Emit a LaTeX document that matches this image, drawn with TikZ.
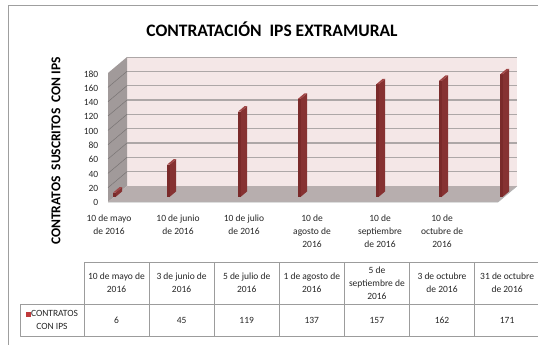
\documentclass[tikz,border=0pt]{standalone}
\usepackage{fontspec}
\setmainfont{Carlito}
\definecolor{wallpink}{HTML}{F4E7E7}
\definecolor{sidegray}{HTML}{A19A9A}
\definecolor{floorgray}{HTML}{B7AEAE}
\definecolor{gridgray}{HTML}{ADA7A7}
\definecolor{barfront}{HTML}{7A2A2A}
\definecolor{barside}{HTML}{863232}
\definecolor{bartop}{HTML}{A04646}
\definecolor{legred}{HTML}{C0393B}
\definecolor{tabline}{HTML}{9C9C9C}
\begin{document}
\begin{tikzpicture}[x=1pt, y=-1pt, font=\fontsize{9.5}{13}\selectfont, line join=round,
  cell/.style={draw=tabline, line width=0.8pt},
  txt/.style={align=center, inner sep=0pt, text=black!85}]
\def\k{0.7167}
\useasboundingbox (0,0) rectangle (538,345);
\draw[gray!75, line width=0.8pt] (8,5) rectangle (560,360);
\node[font=\fontsize{17.5}{19}\selectfont\bfseries] (title) at (272,29) {CONTRATACIÓN\ \ IPS EXTRAMURAL};
% walls and floor
\path (108,202) coordinate (FL) (127,186) coordinate (BL) (517,186) coordinate (BR) (498,202) coordinate (FR);
\fill[wallpink] (127,57) rectangle (BR);
\fill[sidegray] (108,73) -- (127,57) -- (BL) -- (FL) -- cycle;
\foreach \v in {20,40,...,160}{\draw[gridgray, line width=1.1pt] (127,186-\k*\v)--(517,186-\k*\v);
  \draw[sidegray!75!black, line width=0.5pt] (108,202-\k*\v)--(127,186-\k*\v);}
\draw[gridgray, line width=0.8pt] (127,57)--(517,57);
\fill[floorgray] (FL) -- (BL) -- (BR) -- (FR) -- cycle;
\draw[black!30, line width=0.6pt] (FL)--(FR)--(BR);
% bars
\foreach \x/\v in {113/6, 167/45, 238/119, 298/137, 376/157, 439/162, 500/171}{
  \fill[barside] (\x+2.5,197) -- ++(6.5,-5.5) -- ++(0,-\k*\v) -- ++(-6.5,5.5) -- cycle;
  \fill[barfront] (\x,197) rectangle (\x+2.5,197-\k*\v);
  \fill[bartop] (\x,197-\k*\v) -- ++(2.5,0) -- ++(6.5,-5.5) -- ++(-2.5,0) -- cycle;}
% axes labels
\foreach \v in {0,20,...,180}{\node[txt, anchor=east] (yl\v) at (98.5,202.5-0.7133*\v) {\v};}
\node[rotate=90, font=\fontsize{13.5}{15}\selectfont\bfseries] (ytitle) at (56,151) {CONTRATOS\ \ SUSCRITOS\ \ CON IPS};
\foreach \x/\t [count=\i] in {109/10 de mayo\\de 2016, 178/10 de junio\\de 2016, 244/10 de julio\\de 2016,
  312/10 de\\agosto de\\2016, 380/10 de\\septiembre\\de 2016, 442/10 de\\octubre de\\2016}{
  \node[txt, anchor=north] (xl\i) at (\x,215) {\t};}
% data table
\foreach \h/\v [count=\i] in {10 de mayo de\\2016/6, 3 de junio de\\2016/45, 5 de julio de\\2016/119,
  1 de agosto de\\2016/137, 5 de\\septiembre de\\2016/157, 3 de octubre\\de 2016/162, 31 de octubre\\de 2016/171}{
  \draw[cell] (84+65.1*\i-65.1,262) rectangle (84+65.1*\i,304);
  \draw[cell] (84+65.1*\i-65.1,304) rectangle (84+65.1*\i,336);
  \node[txt] (h\i) at (116.5+65.1*\i-65.1,283) {\h};
  \node[txt] (v\i) at (116.5+65.1*\i-65.1,320) {\v};}
\draw[cell] (20,304) rectangle (84,336);
\node[txt] (leg) at (52,320) {\textcolor{legred}{\rule{5pt}{5pt}}CONTRATOS\\CON IPS};
\end{tikzpicture}
\end{document}
